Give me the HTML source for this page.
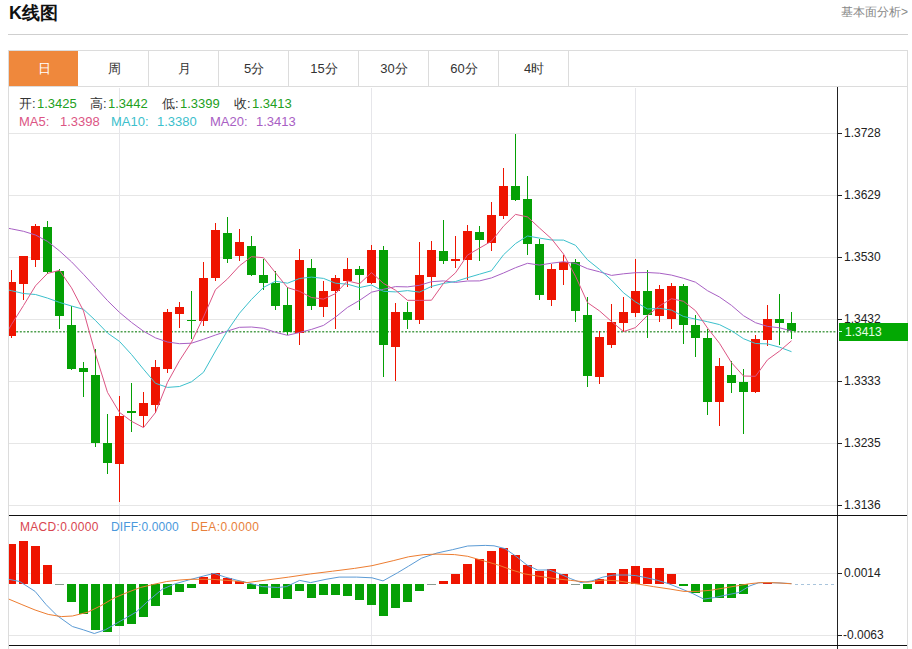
<!DOCTYPE html>
<html><head><meta charset="utf-8"><style>
html,body{margin:0;padding:0;background:#fff;}
body{width:912px;height:649px;position:relative;overflow:hidden;font-family:"Liberation Sans", sans-serif;}
svg{position:absolute;left:0;top:0;}
</style></head><body>
<svg width="912" height="649" viewBox="0 0 912 649">
<g shape-rendering="crispEdges">
<rect x="8" y="34" width="900" height="1" fill="#cfcfcf"/>
<rect x="8" y="50" width="900" height="1" fill="#dcdcdc"/>
<rect x="8" y="86" width="900" height="1" fill="#dcdcdc"/>
<rect x="8" y="50" width="1" height="599" fill="#dcdcdc"/>
<rect x="907" y="50" width="1" height="599" fill="#dcdcdc"/>
<rect x="9" y="51" width="69" height="35" fill="#ef883c"/>
<rect x="148" y="51" width="1" height="35" fill="#dcdcdc"/>
<rect x="218" y="51" width="1" height="35" fill="#dcdcdc"/>
<rect x="288" y="51" width="1" height="35" fill="#dcdcdc"/>
<rect x="358" y="51" width="1" height="35" fill="#dcdcdc"/>
<rect x="428" y="51" width="1" height="35" fill="#dcdcdc"/>
<rect x="498" y="51" width="1" height="35" fill="#dcdcdc"/>
<rect x="568" y="51" width="1" height="35" fill="#dcdcdc"/>
<rect x="9" y="133" width="828" height="1" fill="#e6e6e6"/>
<rect x="9" y="195" width="828" height="1" fill="#e6e6e6"/>
<rect x="9" y="257" width="828" height="1" fill="#e6e6e6"/>
<rect x="9" y="319" width="828" height="1" fill="#e6e6e6"/>
<rect x="9" y="381" width="828" height="1" fill="#e6e6e6"/>
<rect x="9" y="443" width="828" height="1" fill="#e6e6e6"/>
<rect x="9" y="505" width="828" height="1" fill="#e6e6e6"/>
<rect x="9" y="573" width="828" height="1" fill="#e6e6e6"/>
<rect x="9" y="635" width="828" height="1" fill="#e6e6e6"/>
<rect x="119" y="88" width="1" height="557" fill="#e6e6ea"/>
<rect x="371" y="88" width="1" height="557" fill="#e6e6ea"/>
<rect x="635" y="88" width="1" height="557" fill="#e6e6ea"/>
<rect x="837" y="87" width="1" height="562" fill="#222"/>
<rect x="9" y="515" width="898" height="1" fill="#111"/>
<rect x="9" y="645" width="898" height="1" fill="#111"/>
<rect x="838" y="133" width="4" height="1" fill="#222"/>
<rect x="838" y="195" width="4" height="1" fill="#222"/>
<rect x="838" y="257" width="4" height="1" fill="#222"/>
<rect x="838" y="319" width="4" height="1" fill="#222"/>
<rect x="838" y="381" width="4" height="1" fill="#222"/>
<rect x="838" y="443" width="4" height="1" fill="#222"/>
<rect x="838" y="505" width="4" height="1" fill="#222"/>
<rect x="838" y="573" width="4" height="1" fill="#222"/>
<rect x="838" y="635" width="4" height="1" fill="#222"/>
</g>
<line x1="9" y1="331.75" x2="836" y2="331.75" stroke="#4f9f4f" stroke-width="1.5" stroke-dasharray="2,1.6"/>
<g shape-rendering="crispEdges"><clipPath id="cp"><rect x="9" y="87" width="828" height="428"/></clipPath><g clip-path="url(#cp)">
<rect x="11" y="270" width="1" height="68" fill="#ee1400"/>
<rect x="7" y="282" width="9" height="54" fill="#ee1400"/>
<rect x="23" y="256" width="1" height="44" fill="#ee1400"/>
<rect x="19" y="256" width="9" height="28" fill="#ee1400"/>
<rect x="35" y="224" width="1" height="43" fill="#ee1400"/>
<rect x="31" y="226" width="9" height="34" fill="#ee1400"/>
<rect x="47" y="221" width="1" height="53" fill="#05a005"/>
<rect x="43" y="227" width="9" height="45" fill="#05a005"/>
<rect x="59" y="269" width="1" height="60" fill="#05a005"/>
<rect x="55" y="271" width="9" height="45" fill="#05a005"/>
<rect x="71" y="306" width="1" height="64" fill="#05a005"/>
<rect x="67" y="325" width="9" height="44" fill="#05a005"/>
<rect x="83" y="362" width="1" height="35" fill="#05a005"/>
<rect x="79" y="368" width="9" height="4" fill="#05a005"/>
<rect x="95" y="349" width="1" height="98" fill="#05a005"/>
<rect x="91" y="375" width="9" height="68" fill="#05a005"/>
<rect x="107" y="414" width="1" height="60" fill="#05a005"/>
<rect x="103" y="443" width="9" height="20" fill="#05a005"/>
<rect x="119" y="396" width="1" height="106" fill="#ee1400"/>
<rect x="115" y="416" width="9" height="48" fill="#ee1400"/>
<rect x="131" y="383" width="1" height="49" fill="#05a005"/>
<rect x="127" y="411" width="9" height="2" fill="#05a005"/>
<rect x="143" y="392" width="1" height="35" fill="#ee1400"/>
<rect x="139" y="403" width="9" height="13" fill="#ee1400"/>
<rect x="155" y="360" width="1" height="53" fill="#ee1400"/>
<rect x="151" y="367" width="9" height="38" fill="#ee1400"/>
<rect x="167" y="309" width="1" height="64" fill="#ee1400"/>
<rect x="163" y="312" width="9" height="57" fill="#ee1400"/>
<rect x="179" y="302" width="1" height="26" fill="#ee1400"/>
<rect x="175" y="307" width="9" height="7" fill="#ee1400"/>
<rect x="191" y="291" width="1" height="48" fill="#05a005"/>
<rect x="187" y="320" width="9" height="1" fill="#05a005"/>
<rect x="203" y="262" width="1" height="64" fill="#ee1400"/>
<rect x="199" y="278" width="9" height="43" fill="#ee1400"/>
<rect x="215" y="223" width="1" height="58" fill="#ee1400"/>
<rect x="211" y="230" width="9" height="48" fill="#ee1400"/>
<rect x="227" y="217" width="1" height="46" fill="#05a005"/>
<rect x="223" y="233" width="9" height="26" fill="#05a005"/>
<rect x="239" y="229" width="1" height="32" fill="#ee1400"/>
<rect x="235" y="242" width="9" height="14" fill="#ee1400"/>
<rect x="251" y="236" width="1" height="40" fill="#05a005"/>
<rect x="247" y="246" width="9" height="29" fill="#05a005"/>
<rect x="263" y="259" width="1" height="31" fill="#05a005"/>
<rect x="259" y="275" width="9" height="8" fill="#05a005"/>
<rect x="275" y="271" width="1" height="39" fill="#05a005"/>
<rect x="271" y="283" width="9" height="23" fill="#05a005"/>
<rect x="287" y="287" width="1" height="48" fill="#05a005"/>
<rect x="283" y="305" width="9" height="27" fill="#05a005"/>
<rect x="299" y="249" width="1" height="96" fill="#ee1400"/>
<rect x="295" y="260" width="9" height="73" fill="#ee1400"/>
<rect x="311" y="259" width="1" height="51" fill="#05a005"/>
<rect x="307" y="268" width="9" height="38" fill="#05a005"/>
<rect x="323" y="281" width="1" height="36" fill="#ee1400"/>
<rect x="319" y="291" width="9" height="16" fill="#ee1400"/>
<rect x="335" y="275" width="1" height="54" fill="#ee1400"/>
<rect x="331" y="278" width="9" height="13" fill="#ee1400"/>
<rect x="347" y="258" width="1" height="29" fill="#ee1400"/>
<rect x="343" y="269" width="9" height="12" fill="#ee1400"/>
<rect x="359" y="266" width="1" height="44" fill="#05a005"/>
<rect x="355" y="269" width="9" height="6" fill="#05a005"/>
<rect x="371" y="245" width="1" height="39" fill="#ee1400"/>
<rect x="367" y="250" width="9" height="33" fill="#ee1400"/>
<rect x="383" y="246" width="1" height="131" fill="#05a005"/>
<rect x="379" y="250" width="9" height="95" fill="#05a005"/>
<rect x="395" y="303" width="1" height="78" fill="#ee1400"/>
<rect x="391" y="312" width="9" height="35" fill="#ee1400"/>
<rect x="407" y="302" width="1" height="27" fill="#05a005"/>
<rect x="403" y="312" width="9" height="8" fill="#05a005"/>
<rect x="419" y="242" width="1" height="82" fill="#ee1400"/>
<rect x="415" y="275" width="9" height="45" fill="#ee1400"/>
<rect x="431" y="241" width="1" height="47" fill="#ee1400"/>
<rect x="427" y="250" width="9" height="27" fill="#ee1400"/>
<rect x="443" y="220" width="1" height="44" fill="#05a005"/>
<rect x="439" y="251" width="9" height="10" fill="#05a005"/>
<rect x="455" y="236" width="1" height="32" fill="#ee1400"/>
<rect x="451" y="259" width="9" height="2" fill="#ee1400"/>
<rect x="467" y="225" width="1" height="55" fill="#ee1400"/>
<rect x="463" y="231" width="9" height="29" fill="#ee1400"/>
<rect x="479" y="226" width="1" height="35" fill="#05a005"/>
<rect x="475" y="232" width="9" height="8" fill="#05a005"/>
<rect x="491" y="202" width="1" height="49" fill="#ee1400"/>
<rect x="487" y="215" width="9" height="28" fill="#ee1400"/>
<rect x="503" y="168" width="1" height="51" fill="#ee1400"/>
<rect x="499" y="186" width="9" height="30" fill="#ee1400"/>
<rect x="515" y="134" width="1" height="67" fill="#05a005"/>
<rect x="511" y="186" width="9" height="14" fill="#05a005"/>
<rect x="527" y="176" width="1" height="79" fill="#05a005"/>
<rect x="523" y="199" width="9" height="45" fill="#05a005"/>
<rect x="539" y="239" width="1" height="61" fill="#05a005"/>
<rect x="535" y="244" width="9" height="51" fill="#05a005"/>
<rect x="551" y="264" width="1" height="42" fill="#ee1400"/>
<rect x="547" y="269" width="9" height="31" fill="#ee1400"/>
<rect x="563" y="255" width="1" height="30" fill="#ee1400"/>
<rect x="559" y="262" width="9" height="8" fill="#ee1400"/>
<rect x="575" y="259" width="1" height="63" fill="#05a005"/>
<rect x="571" y="262" width="9" height="49" fill="#05a005"/>
<rect x="587" y="297" width="1" height="90" fill="#05a005"/>
<rect x="583" y="315" width="9" height="61" fill="#05a005"/>
<rect x="599" y="331" width="1" height="53" fill="#ee1400"/>
<rect x="595" y="337" width="9" height="40" fill="#ee1400"/>
<rect x="611" y="304" width="1" height="44" fill="#ee1400"/>
<rect x="607" y="322" width="9" height="23" fill="#ee1400"/>
<rect x="623" y="297" width="1" height="35" fill="#ee1400"/>
<rect x="619" y="312" width="9" height="11" fill="#ee1400"/>
<rect x="635" y="259" width="1" height="58" fill="#ee1400"/>
<rect x="631" y="291" width="9" height="22" fill="#ee1400"/>
<rect x="647" y="270" width="1" height="68" fill="#05a005"/>
<rect x="643" y="291" width="9" height="24" fill="#05a005"/>
<rect x="659" y="285" width="1" height="37" fill="#ee1400"/>
<rect x="655" y="289" width="9" height="27" fill="#ee1400"/>
<rect x="671" y="283" width="1" height="46" fill="#ee1400"/>
<rect x="667" y="286" width="9" height="33" fill="#ee1400"/>
<rect x="683" y="284" width="1" height="60" fill="#05a005"/>
<rect x="679" y="286" width="9" height="39" fill="#05a005"/>
<rect x="695" y="315" width="1" height="42" fill="#05a005"/>
<rect x="691" y="325" width="9" height="13" fill="#05a005"/>
<rect x="707" y="329" width="1" height="86" fill="#05a005"/>
<rect x="703" y="338" width="9" height="64" fill="#05a005"/>
<rect x="719" y="358" width="1" height="68" fill="#ee1400"/>
<rect x="715" y="366" width="9" height="36" fill="#ee1400"/>
<rect x="731" y="361" width="1" height="32" fill="#05a005"/>
<rect x="727" y="375" width="9" height="8" fill="#05a005"/>
<rect x="743" y="369" width="1" height="65" fill="#05a005"/>
<rect x="739" y="382" width="9" height="10" fill="#05a005"/>
<rect x="755" y="335" width="1" height="58" fill="#ee1400"/>
<rect x="751" y="339" width="9" height="53" fill="#ee1400"/>
<rect x="767" y="305" width="1" height="41" fill="#ee1400"/>
<rect x="763" y="319" width="9" height="21" fill="#ee1400"/>
<rect x="779" y="294" width="1" height="51" fill="#05a005"/>
<rect x="775" y="319" width="9" height="4" fill="#05a005"/>
<rect x="791" y="312" width="1" height="27" fill="#05a005"/>
<rect x="787" y="323" width="9" height="8" fill="#05a005"/>
</g></g>
<g clip-path="url(#cp)">
<polyline points="-0.5,226.5 11.5,228.9 23.5,231.3 35.5,235.0 47.5,241.4 59.5,250.9 71.5,261.8 83.5,274.3 95.5,287.4 107.5,300.6 119.5,312.4 131.5,322.4 143.5,331.2 155.5,337.9 167.5,342.0 179.5,343.7 191.5,343.2 203.5,339.3 215.5,335.0 227.5,331.0 239.5,327.3 251.5,327.0 263.5,328.3 275.5,332.3 287.5,335.3 299.5,332.5 311.5,329.4 323.5,325.4 335.5,317.1 347.5,307.4 359.5,300.4 371.5,292.2 383.5,289.3 395.5,286.6 407.5,286.9 419.5,285.3 431.5,281.7 443.5,280.9 455.5,282.4 467.5,281.0 479.5,280.9 491.5,277.9 503.5,273.0 515.5,267.7 527.5,263.3 539.5,265.1 551.5,263.2 563.5,261.7 575.5,263.4 587.5,268.7 599.5,271.8 611.5,275.4 623.5,273.8 635.5,272.7 647.5,272.5 659.5,273.2 671.5,275.1 683.5,278.3 695.5,282.2 707.5,290.7 719.5,297.0 731.5,305.4 743.5,315.7 755.5,322.7 767.5,326.4 779.5,327.8 791.5,330.9" fill="none" stroke="#a860c4" stroke-width="1" stroke-linejoin="round"/>
<polyline points="-0.5,288.0 11.5,290.7 23.5,293.5 35.5,294.5 47.5,298.1 59.5,302.4 71.5,306.0 83.5,309.3 95.5,320.5 107.5,333.0 119.5,341.4 131.5,354.5 143.5,369.2 155.5,383.3 167.5,387.4 179.5,386.5 191.5,381.8 203.5,372.3 215.5,351.0 227.5,330.6 239.5,313.2 251.5,299.4 263.5,287.4 275.5,281.2 287.5,283.2 299.5,278.5 311.5,277.1 323.5,278.4 335.5,283.2 347.5,284.2 359.5,287.6 371.5,285.0 383.5,291.3 395.5,291.9 407.5,290.6 419.5,292.1 431.5,286.4 443.5,283.4 455.5,281.5 467.5,277.7 479.5,274.2 491.5,270.7 503.5,254.8 515.5,243.6 527.5,236.0 539.5,238.1 551.5,240.0 563.5,240.1 575.5,245.3 587.5,259.8 599.5,269.4 611.5,280.1 623.5,292.8 635.5,301.9 647.5,309.0 659.5,308.4 671.5,310.1 683.5,316.5 695.5,319.1 707.5,321.7 719.5,324.6 731.5,330.7 743.5,338.7 755.5,343.5 767.5,343.9 779.5,347.2 791.5,351.7" fill="none" stroke="#3cc0cc" stroke-width="1" stroke-linejoin="round"/>
<polyline points="-0.5,345.0 11.5,324.5 23.5,305.5 35.5,285.8 47.5,273.4 59.5,270.4 71.5,287.8 83.5,310.9 95.5,354.2 107.5,392.4 119.5,412.4 131.5,421.3 143.5,427.6 155.5,412.5 167.5,382.3 179.5,360.6 191.5,342.2 203.5,317.0 215.5,289.6 227.5,278.9 239.5,265.8 251.5,256.7 263.5,257.7 275.5,272.8 287.5,287.6 299.5,291.3 311.5,297.5 323.5,299.1 335.5,293.6 347.5,280.9 359.5,283.8 371.5,272.6 383.5,283.4 395.5,290.2 407.5,300.3 419.5,300.4 431.5,300.2 443.5,283.4 455.5,272.8 467.5,255.1 479.5,248.1 491.5,241.2 503.5,226.2 515.5,214.4 527.5,216.9 539.5,228.0 551.5,238.8 563.5,254.0 575.5,276.2 587.5,302.6 599.5,310.9 611.5,321.5 623.5,331.6 635.5,327.6 647.5,315.4 659.5,305.9 671.5,298.7 683.5,301.3 695.5,310.7 707.5,328.0 719.5,343.3 731.5,362.7 743.5,376.0 755.5,376.3 767.5,359.8 779.5,351.1 791.5,340.8" fill="none" stroke="#dc5584" stroke-width="1" stroke-linejoin="round"/>
</g>
<rect x="839" y="323" width="69" height="18" fill="#03a803" shape-rendering="crispEdges"/>
<rect x="838" y="331" width="4" height="1" fill="#cfe" shape-rendering="crispEdges"/>
<line x1="795" y1="584.5" x2="836" y2="584.5" stroke="#a8c4dc" stroke-width="1" stroke-dasharray="3,3"/>
<g shape-rendering="crispEdges">
<rect x="9" y="544" width="7" height="40" fill="#ee1400"/>
<rect x="19" y="541" width="9" height="43" fill="#ee1400"/>
<rect x="31" y="546" width="9" height="38" fill="#ee1400"/>
<rect x="43" y="565" width="9" height="19" fill="#ee1400"/>
<rect x="55" y="584" width="9" height="1" fill="#8a9a90"/>
<rect x="67" y="584" width="9" height="18" fill="#05a005"/>
<rect x="79" y="584" width="9" height="30" fill="#05a005"/>
<rect x="91" y="584" width="9" height="46" fill="#05a005"/>
<rect x="103" y="584" width="9" height="48" fill="#05a005"/>
<rect x="115" y="584" width="9" height="42" fill="#05a005"/>
<rect x="127" y="584" width="9" height="40" fill="#05a005"/>
<rect x="139" y="584" width="9" height="33" fill="#05a005"/>
<rect x="151" y="584" width="9" height="22" fill="#05a005"/>
<rect x="163" y="584" width="9" height="11" fill="#05a005"/>
<rect x="175" y="584" width="9" height="8" fill="#05a005"/>
<rect x="187" y="584" width="9" height="4" fill="#05a005"/>
<rect x="199" y="577" width="9" height="7" fill="#ee1400"/>
<rect x="211" y="573" width="9" height="11" fill="#ee1400"/>
<rect x="223" y="578" width="9" height="6" fill="#ee1400"/>
<rect x="235" y="581" width="9" height="3" fill="#ee1400"/>
<rect x="247" y="584" width="9" height="5" fill="#05a005"/>
<rect x="259" y="584" width="9" height="10" fill="#05a005"/>
<rect x="271" y="584" width="9" height="14" fill="#05a005"/>
<rect x="283" y="584" width="9" height="15" fill="#05a005"/>
<rect x="295" y="584" width="9" height="7" fill="#05a005"/>
<rect x="307" y="584" width="9" height="14" fill="#05a005"/>
<rect x="319" y="584" width="9" height="11" fill="#05a005"/>
<rect x="331" y="584" width="9" height="11" fill="#05a005"/>
<rect x="343" y="584" width="9" height="12" fill="#05a005"/>
<rect x="355" y="584" width="9" height="16" fill="#05a005"/>
<rect x="367" y="584" width="9" height="21" fill="#05a005"/>
<rect x="379" y="584" width="9" height="32" fill="#05a005"/>
<rect x="391" y="584" width="9" height="24" fill="#05a005"/>
<rect x="403" y="584" width="9" height="18" fill="#05a005"/>
<rect x="415" y="584" width="9" height="7" fill="#05a005"/>
<rect x="427" y="584" width="9" height="1" fill="#8a9a90"/>
<rect x="439" y="581" width="9" height="3" fill="#ee1400"/>
<rect x="451" y="574" width="9" height="10" fill="#ee1400"/>
<rect x="463" y="564" width="9" height="20" fill="#ee1400"/>
<rect x="475" y="559" width="9" height="25" fill="#ee1400"/>
<rect x="487" y="551" width="9" height="33" fill="#ee1400"/>
<rect x="499" y="548" width="9" height="36" fill="#ee1400"/>
<rect x="511" y="555" width="9" height="29" fill="#ee1400"/>
<rect x="523" y="565" width="9" height="19" fill="#ee1400"/>
<rect x="535" y="571" width="9" height="13" fill="#ee1400"/>
<rect x="547" y="569" width="9" height="15" fill="#ee1400"/>
<rect x="559" y="574" width="9" height="10" fill="#ee1400"/>
<rect x="571" y="584" width="9" height="1" fill="#8a9a90"/>
<rect x="583" y="584" width="9" height="5" fill="#05a005"/>
<rect x="595" y="579" width="9" height="5" fill="#ee1400"/>
<rect x="607" y="573" width="9" height="11" fill="#ee1400"/>
<rect x="619" y="569" width="9" height="15" fill="#ee1400"/>
<rect x="631" y="566" width="9" height="18" fill="#ee1400"/>
<rect x="643" y="568" width="9" height="16" fill="#ee1400"/>
<rect x="655" y="568" width="9" height="16" fill="#ee1400"/>
<rect x="667" y="574" width="9" height="10" fill="#ee1400"/>
<rect x="679" y="584" width="9" height="2" fill="#05a005"/>
<rect x="691" y="584" width="9" height="9" fill="#05a005"/>
<rect x="703" y="584" width="9" height="18" fill="#05a005"/>
<rect x="715" y="584" width="9" height="14" fill="#05a005"/>
<rect x="727" y="584" width="9" height="14" fill="#05a005"/>
<rect x="739" y="584" width="9" height="10" fill="#05a005"/>
<rect x="763" y="582" width="9" height="2" fill="#ee1400"/>
</g>
<polyline points="8.8,579.3 19.7,581.5 35.1,591.4 46.1,604.6 57.0,615.5 72.4,626.5 83.3,629.8 94.3,633.5 105.3,629.8 120.6,621.0 136.0,612.2 149.1,600.2 162.3,589.2 175.4,583.7 188.6,580.0 203.2,576.1 214.1,573.4 225.1,577.1 236.1,580.0 247.0,582.6 262.4,586.6 277.7,587.5 286.5,586.6 299.6,580.4 310.6,582.6 326.0,579.3 339.1,577.1 356.7,577.1 372.0,577.8 383.0,580.9 397.5,572.8 408.5,566.2 421.7,558.1 437.0,553.0 452.4,549.7 467.7,546.0 485.3,545.4 494.0,545.8 505.0,548.6 516.0,556.3 527.0,565.1 537.9,570.1 548.9,569.9 559.8,573.9 570.8,578.7 581.0,582.6 592.0,580.9 602.9,577.1 613.9,575.0 627.0,575.0 635.8,575.6 646.8,577.8 657.7,580.4 668.7,583.7 679.6,588.1 692.8,593.6 703.8,599.1 714.7,597.5 727.9,594.7 738.9,592.5 749.8,585.9 758.6,582.8 770.0,582.6 780.0,583.0 791.5,583.6" fill="none" stroke="#5b9bd5" stroke-width="1" stroke-linejoin="round"/>
<polyline points="8.8,599.1 21.9,604.6 35.1,610.0 48.2,614.4 61.4,616.6 72.4,616.0 87.7,612.2 100.9,605.7 114.0,598.0 127.2,592.5 140.4,587.5 153.5,584.4 166.7,581.5 179.8,580.0 190.0,579.3 211.9,579.3 233.9,580.9 247.0,582.6 266.8,580.0 288.7,577.1 310.6,573.9 332.5,571.2 354.5,568.4 372.0,565.7 393.2,560.7 408.5,556.8 423.9,554.6 437.0,554.1 454.6,554.6 467.7,556.3 483.1,560.7 498.4,565.1 511.6,569.9 524.7,573.9 537.9,576.1 555.4,578.7 570.8,580.4 587.5,582.2 602.9,580.0 618.2,580.9 635.8,583.7 653.3,586.6 670.9,589.2 684.0,591.4 697.2,591.4 710.4,590.3 723.5,588.1 736.7,585.9 749.8,583.7 760.8,582.6 770.0,582.6 780.0,583.0 791.5,583.8" fill="none" stroke="#ed7d31" stroke-width="1" stroke-linejoin="round"/>
</svg>
<div style="position:absolute;left:9px;top:4px;font-size:18px;line-height:18px;color:#111;font-weight:bold;white-space:nowrap;">K线图</div><div style="position:absolute;left:841px;top:6px;font-size:12px;line-height:12px;color:#888;font-weight:normal;white-space:nowrap;">基本面分析&gt;</div><div style="position:absolute;left:9px;top:62px;width:70px;text-align:center;font-size:13px;line-height:13px;color:#fff">日</div><div style="position:absolute;left:79px;top:62px;width:70px;text-align:center;font-size:13px;line-height:13px;color:#333">周</div><div style="position:absolute;left:149px;top:62px;width:70px;text-align:center;font-size:13px;line-height:13px;color:#333">月</div><div style="position:absolute;left:219px;top:62px;width:70px;text-align:center;font-size:13px;line-height:13px;color:#333">5分</div><div style="position:absolute;left:289px;top:62px;width:70px;text-align:center;font-size:13px;line-height:13px;color:#333">15分</div><div style="position:absolute;left:359px;top:62px;width:70px;text-align:center;font-size:13px;line-height:13px;color:#333">30分</div><div style="position:absolute;left:429px;top:62px;width:70px;text-align:center;font-size:13px;line-height:13px;color:#333">60分</div><div style="position:absolute;left:499px;top:62px;width:70px;text-align:center;font-size:13px;line-height:13px;color:#333">4时</div><div style="position:absolute;left:19px;top:97px;font-size:13px;line-height:13px;color:#333;font-weight:normal;white-space:nowrap;">开:</div><div style="position:absolute;left:37px;top:97px;font-size:13px;line-height:13px;color:#22a022;font-weight:normal;white-space:nowrap;">1.3425</div><div style="position:absolute;left:90px;top:97px;font-size:13px;line-height:13px;color:#333;font-weight:normal;white-space:nowrap;">高:</div><div style="position:absolute;left:108px;top:97px;font-size:13px;line-height:13px;color:#22a022;font-weight:normal;white-space:nowrap;">1.3442</div><div style="position:absolute;left:162px;top:97px;font-size:13px;line-height:13px;color:#333;font-weight:normal;white-space:nowrap;">低:</div><div style="position:absolute;left:180px;top:97px;font-size:13px;line-height:13px;color:#22a022;font-weight:normal;white-space:nowrap;">1.3399</div><div style="position:absolute;left:234px;top:97px;font-size:13px;line-height:13px;color:#333;font-weight:normal;white-space:nowrap;">收:</div><div style="position:absolute;left:252px;top:97px;font-size:13px;line-height:13px;color:#22a022;font-weight:normal;white-space:nowrap;">1.3413</div><div style="position:absolute;left:19px;top:115px;font-size:13px;line-height:13px;color:#dc5584;font-weight:normal;white-space:nowrap;">MA5:</div><div style="position:absolute;left:60px;top:115px;font-size:13px;line-height:13px;color:#dc5584;font-weight:normal;white-space:nowrap;">1.3398</div><div style="position:absolute;left:111px;top:115px;font-size:13px;line-height:13px;color:#3cc0cc;font-weight:normal;white-space:nowrap;">MA10:</div><div style="position:absolute;left:157px;top:115px;font-size:13px;line-height:13px;color:#3cc0cc;font-weight:normal;white-space:nowrap;">1.3380</div><div style="position:absolute;left:210px;top:115px;font-size:13px;line-height:13px;color:#a860c4;font-weight:normal;white-space:nowrap;">MA20:</div><div style="position:absolute;left:256px;top:115px;font-size:13px;line-height:13px;color:#a860c4;font-weight:normal;white-space:nowrap;">1.3413</div><div style="position:absolute;left:844px;top:127px;font-size:12px;line-height:12px;color:#222;font-weight:normal;white-space:nowrap;">1.3728</div><div style="position:absolute;left:844px;top:189px;font-size:12px;line-height:12px;color:#222;font-weight:normal;white-space:nowrap;">1.3629</div><div style="position:absolute;left:844px;top:251px;font-size:12px;line-height:12px;color:#222;font-weight:normal;white-space:nowrap;">1.3530</div><div style="position:absolute;left:844px;top:313px;font-size:12px;line-height:12px;color:#222;font-weight:normal;white-space:nowrap;">1.3432</div><div style="position:absolute;left:844px;top:375px;font-size:12px;line-height:12px;color:#222;font-weight:normal;white-space:nowrap;">1.3333</div><div style="position:absolute;left:844px;top:437px;font-size:12px;line-height:12px;color:#222;font-weight:normal;white-space:nowrap;">1.3235</div><div style="position:absolute;left:844px;top:499px;font-size:12px;line-height:12px;color:#222;font-weight:normal;white-space:nowrap;">1.3136</div><div style="position:absolute;left:844px;top:567px;font-size:12px;line-height:12px;color:#222;font-weight:normal;white-space:nowrap;">0.0014</div><div style="position:absolute;left:843px;top:629px;font-size:12px;line-height:12px;color:#222;font-weight:normal;white-space:nowrap;">-0.0063</div><div style="position:absolute;left:845px;top:326px;font-size:12px;line-height:12px;color:#e6ffe6;font-weight:normal;white-space:nowrap;">1.3413</div><div style="position:absolute;left:20px;top:521px;font-size:12px;line-height:12px;color:#d8454f;font-weight:normal;white-space:nowrap;letter-spacing:0.3px">MACD:0.0000</div><div style="position:absolute;left:111px;top:521px;font-size:12px;line-height:12px;color:#4a98dc;font-weight:normal;white-space:nowrap;letter-spacing:0.1px">DIFF:0.0000</div><div style="position:absolute;left:191px;top:521px;font-size:12px;line-height:12px;color:#e8803a;font-weight:normal;white-space:nowrap;letter-spacing:0.35px">DEA:0.0000</div>
</body></html>
